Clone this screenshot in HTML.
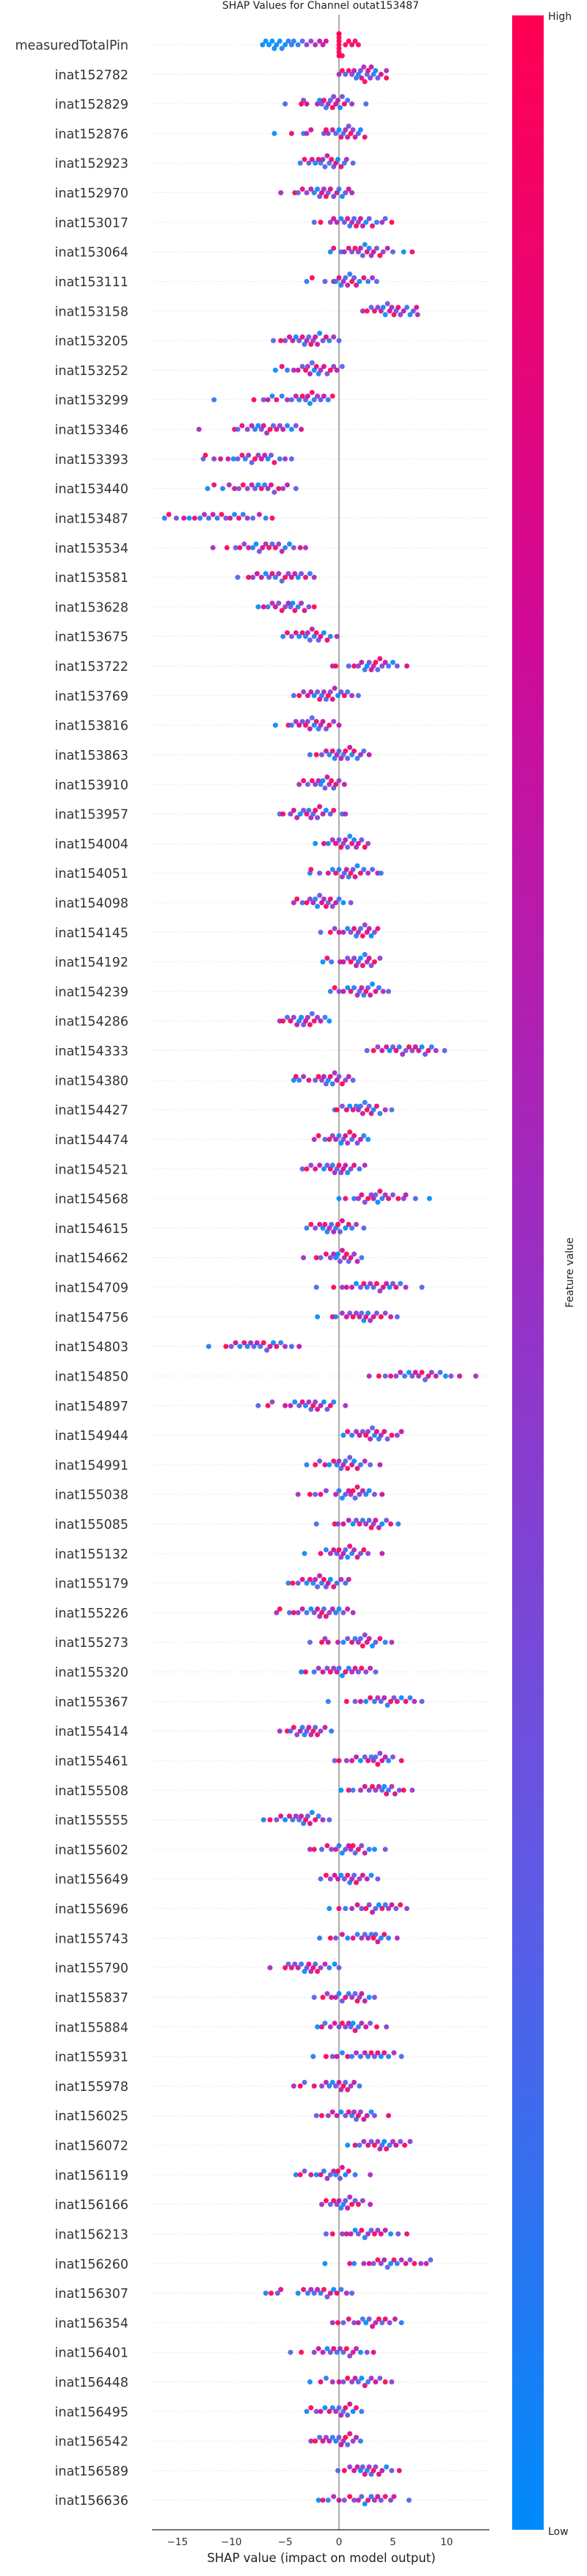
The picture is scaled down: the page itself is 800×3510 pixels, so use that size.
<!DOCTYPE html>
<html><head><meta charset="utf-8"><title>SHAP Values for Channel outat153487</title>
<style>
html,body{margin:0;padding:0;background:#fff;}
svg{display:block;font-family:"DejaVu Sans","Liberation Sans",sans-serif;}
</style></head>
<body>
<svg id="chart" width="800" height="3510" viewBox="0 0 800 3510" xmlns="http://www.w3.org/2000/svg">
<defs>
<linearGradient id="cbar" x1="0" y1="1" x2="0" y2="0">
<stop offset="0" stop-color="#008bfb"/>
<stop offset="0.25" stop-color="#5d5be6"/>
<stop offset="0.5" stop-color="#9a2fc4"/>
<stop offset="0.75" stop-color="#cf0a98"/>
<stop offset="1" stop-color="#ff0052"/>
</linearGradient>
</defs>
<text x="437" y="12" text-anchor="middle" font-size="14" fill="#222">SHAP Values for Channel outat153487</text>
<g id="grid"></g>
<line x1="462" y1="20" x2="462" y2="3447" stroke="#999" stroke-width="1.6"/>
<g id="dots"></g>
<g id="labels"></g>
<line x1="207" y1="3447" x2="667" y2="3447" stroke="#222" stroke-width="1.2"/>
<g id="ticks"></g>
<text x="438" y="3491" text-anchor="middle" font-size="16.5" fill="#222">SHAP value (impact on model output)</text>
<rect x="698" y="21" width="43" height="3426" fill="url(#cbar)"/>
<text x="747" y="27" font-size="14" fill="#222">High</text>
<text x="747" y="3454" font-size="14" fill="#222">Low</text>
<text x="781" y="1734" font-size="14" fill="#222" text-anchor="middle" transform="rotate(-90 781 1734)">Feature value</text>
</svg>
<script>
const featureNames = ["measuredTotalPin","inat152782","inat152829","inat152876","inat152923","inat152970","inat153017","inat153064","inat153111","inat153158","inat153205","inat153252","inat153299","inat153346","inat153393","inat153440","inat153487","inat153534","inat153581","inat153628","inat153675","inat153722","inat153769","inat153816","inat153863","inat153910","inat153957","inat154004","inat154051","inat154098","inat154145","inat154192","inat154239","inat154286","inat154333","inat154380","inat154427","inat154474","inat154521","inat154568","inat154615","inat154662","inat154709","inat154756","inat154803","inat154850","inat154897","inat154944","inat154991","inat155038","inat155085","inat155132","inat155179","inat155226","inat155273","inat155320","inat155367","inat155414","inat155461","inat155508","inat155555","inat155602","inat155649","inat155696","inat155743","inat155790","inat155837","inat155884","inat155931","inat155978","inat156025","inat156072","inat156119","inat156166","inat156213","inat156260","inat156307","inat156354","inat156401","inat156448","inat156495","inat156542","inat156589","inat156636"];

const tickValues = [-15,-10,-5,0,5,10];
const tickLabels = ["\u221215","\u221210","\u22125","0","5","10"];

const shapValues = [
[-7.1,-6.8,-6.5,-6.2,-6,-5.8,-5.5,-5.3,-5,-4.7,-4.4,-4.2,-3.8,-3.4,-3,-2.6,-2.2,-1.8,-1.5,-1.2,0,0,0,0,0,0,0,0,0.3,0.6,0.9,1.2,1.5,1.8],
[0,0.3,0.6,0.9,1.2,1.4,1.6,1.8,2,2.1,2.3,2.4,2.6,2.7,2.9,3,3.2,3.4,3.6,3.9,4.4,4.4],
[-5,-3.5,-3.3,-3,-2,-1.8,-1.6,-1.4,-1.2,-1,-0.8,-0.6,-0.5,-0.3,-0.1,0.1,0.3,0.5,0.8,1.2,2.5],
[-6,-4.4,-3.3,-3,-2.6,-1.4,-1.2,-1,-0.6,-0.3,0,0.2,0.4,0.6,0.8,0.9,1.1,1.3,1.5,1.8,2,2.4],
[-3.6,-3.2,-2.8,-2.5,-2.2,-1.9,-1.7,-1.5,-1.3,-1.1,-0.9,-0.7,-0.5,-0.3,-0.1,0.2,0.5,0.7,1.3],
[-5.4,-4.1,-3.8,-3.4,-3,-2.6,-2.3,-2,-1.8,-1.6,-1.4,-1.2,-1,-0.8,-0.5,-0.2,0,0.3,0.6,0.9,1.2],
[-2.3,-1.7,-0.8,-0.5,-0.2,0.2,0.5,0.8,1,1.2,1.4,1.6,1.8,2,2.2,2.5,2.8,3.1,3.5,4,4.3,4.9],
[-0.8,-0.5,0.2,0.5,0.9,1.2,1.5,1.8,2,2.2,2.4,2.6,2.8,3,3.2,3.5,3.8,4.1,4.5,5,6,6.8],
[-3,-2.5,-1.3,-0.5,-0.3,0,0.2,0.4,0.6,0.8,1,1.2,1.4,1.6,1.9,2.3,2.7,3.1,3.5],
[2.2,2.6,3,3.3,3.6,3.9,4.1,4.3,4.5,4.7,4.9,5.1,5.3,5.5,5.7,6,6.3,6.6,6.9,7.2,7.3],
[-6.1,-5.4,-5,-4.6,-4.3,-4,-3.7,-3.4,-3.2,-3,-2.8,-2.6,-2.4,-2.2,-2,-1.8,-1.5,-1.2,-0.9,-0.5,0],
[-5.9,-5.3,-4.8,-4.2,-3.8,-3.4,-3.1,-2.9,-2.7,-2.5,-2.3,-2.1,-1.9,-1.7,-1.4,-1.1,-0.8,-0.5,-0.2,0.3],
[-11.6,-7.9,-7,-6.6,-6.2,-5.8,-5.3,-4.8,-4.4,-4,-3.7,-3.4,-3.1,-2.9,-2.7,-2.5,-2.3,-2,-1.7,-1.4,-1,-0.6],
[-13,-9.7,-9.4,-9,-8.5,-8.1,-7.8,-7.5,-7.2,-7,-6.7,-6.4,-6.1,-5.8,-5.5,-5.2,-4.8,-4.4,-4,-3.5],
[-12.6,-12.4,-11.6,-11,-10.3,-9.8,-9.4,-9,-8.7,-8.4,-8.1,-7.8,-7.5,-7.2,-6.9,-6.6,-6.3,-6,-5.5,-5,-4.4],
[-12.2,-11.6,-10.8,-10.2,-9.7,-9.3,-8.9,-8.5,-8.1,-7.8,-7.5,-7.2,-6.9,-6.6,-6.3,-6,-5.6,-5.2,-4.8,-4],
[-16.2,-15.8,-15.1,-14.4,-13.9,-13.4,-12.9,-12.5,-12.1,-11.7,-11.3,-10.9,-10.5,-10.1,-9.7,-9.3,-8.9,-8.5,-8,-7.4,-6.8,-6.2],
[-11.7,-10.4,-9.6,-9.2,-8.8,-8.4,-8,-7.7,-7.4,-7.1,-6.8,-6.5,-6.2,-5.9,-5.6,-5.3,-5,-4.6,-4.2,-3.6,-3.1],
[-9.4,-8.4,-8,-7.6,-7.2,-6.8,-6.5,-6.2,-5.9,-5.6,-5.3,-5,-4.7,-4.4,-4.1,-3.8,-3.5,-3.1,-2.7,-2.3],
[-7.5,-7,-6.6,-6.2,-5.9,-5.6,-5.3,-5,-4.7,-4.5,-4.3,-4.1,-3.8,-3.5,-3.2,-2.8,-2.3],
[-5.2,-4.8,-4.4,-4,-3.7,-3.4,-3.1,-2.9,-2.7,-2.5,-2.3,-2.1,-1.9,-1.7,-1.4,-1.1,-0.8,-0.2],
[-0.6,-0.3,0.9,1.4,1.8,2.1,2.4,2.6,2.8,3,3.2,3.4,3.6,3.8,4,4.3,4.6,5,5.4,6.3],
[-4.2,-3.7,-3.3,-2.9,-2.6,-2.3,-2,-1.8,-1.6,-1.4,-1.2,-1,-0.8,-0.6,-0.4,-0.1,0.2,0.5,0.8,1.2,1.8],
[-5.9,-4.7,-4.4,-4,-3.7,-3.4,-3.1,-2.9,-2.7,-2.5,-2.3,-2.1,-1.9,-1.7,-1.5,-1.2,-0.9,-0.5,0],
[-2.7,-2.1,-1.6,-1.2,-0.9,-0.6,-0.4,-0.2,0,0.2,0.4,0.6,0.8,1,1.2,1.4,1.7,2,2.3,2.8],
[-3.7,-3.3,-2.9,-2.5,-2.2,-1.9,-1.7,-1.5,-1.3,-1.1,-0.9,-0.7,-0.5,-0.3,0,0.5],
[-5.5,-5.2,-4.5,-4.2,-3.9,-3.6,-3.3,-3,-2.8,-2.6,-2.4,-2.2,-2,-1.8,-1.5,-1.2,-0.8,-0.5,0.3,0.6],
[-2.2,-1.4,-1,-0.6,-0.3,0,0.2,0.4,0.6,0.8,1,1.2,1.4,1.6,1.8,2.1,2.4,2.7],
[-2.7,-2.6,-1.8,-1,-0.6,-0.3,0,0.3,0.5,0.7,0.9,1.1,1.3,1.5,1.7,2,2.3,2.7,3.1,3.6,3.9],
[-4.2,-3.9,-3.4,-3,-2.7,-2.4,-2.2,-2,-1.8,-1.6,-1.4,-1.2,-1,-0.8,-0.6,-0.3,0,0.4,1.1],
[-1.7,-0.8,-0.4,0,0.4,0.8,1.1,1.4,1.6,1.8,2,2.2,2.4,2.6,2.8,3,3.3,3.6],
[-1.5,-1.1,-0.7,0.1,0.4,0.8,1.1,1.4,1.6,1.8,2,2.2,2.4,2.6,2.8,3,3.3,3.8],
[-0.8,-0.4,0,0.4,0.8,1.1,1.4,1.7,1.9,2.1,2.3,2.5,2.7,2.9,3.1,3.4,3.7,4.1,4.6],
[-5.5,-5.2,-4.8,-4.5,-4.2,-3.9,-3.7,-3.5,-3.3,-3.1,-2.9,-2.7,-2.5,-2.3,-2,-1.7,-1.3,-0.9],
[2.6,3.2,3.6,4,4.4,4.7,5,5.3,5.6,5.9,6.2,6.5,6.8,7.1,7.4,7.7,8,8.3,8.6,9,9.8],
[-4.2,-4,-3.7,-3.3,-2.8,-2.2,-1.9,-1.6,-1.4,-1.2,-1,-0.8,-0.6,-0.4,-0.2,0,0.3,0.6,0.9,1.3],
[-0.4,-0.2,0.3,0.7,1,1.3,1.6,1.8,2,2.2,2.4,2.6,2.8,3,3.2,3.5,3.8,4.3,4.9],
[-2.3,-1.9,-1.3,-0.9,-0.6,-0.3,0,0.2,0.4,0.6,0.8,1,1.2,1.4,1.7,2,2.3,2.7],
[-3.4,-3,-2.6,-2.2,-1.8,-1.4,-1.1,-0.8,-0.6,-0.4,-0.2,0,0.2,0.4,0.6,0.8,1.1,1.4,1.9,2.4],
[0,0.6,1.4,1.8,2.1,2.4,2.7,3,3.2,3.4,3.6,3.8,4,4.3,4.6,5,5.5,6,6.2,7.1,8.4],
[-3,-2.6,-2.2,-1.8,-1.5,-1.3,-1.1,-0.9,-0.7,-0.5,-0.3,-0.1,0.1,0.3,0.6,0.9,1.2,1.6,2.3],
[-3.3,-2.1,-1.7,-1.2,-0.8,-0.5,-0.3,-0.1,0.1,0.3,0.5,0.7,0.9,1.1,1.4,1.7,2.1],
[-2.1,-0.5,0.3,0.7,1.2,1.6,2,2.3,2.6,2.9,3.2,3.5,3.8,4.1,4.4,4.7,5,5.3,5.7,6.2,7.7],
[-2,-0.6,-0.3,0.3,0.7,1,1.3,1.6,1.9,2.1,2.3,2.5,2.7,2.9,3.2,3.5,3.9,4.3,4.8,5.4],
[-12.1,-10.5,-10,-9.6,-9.2,-8.8,-8.5,-8.2,-7.9,-7.6,-7.3,-7,-6.7,-6.4,-6.1,-5.8,-5.4,-5,-4.4,-3.7],
[2.8,3.7,4.3,4.8,5.3,5.7,6.1,6.5,6.8,7.1,7.4,7.7,8,8.3,8.6,9,9.4,9.9,10.4,11.2,12.7],
[-7.5,-6.6,-6.2,-5,-4.5,-4.1,-3.7,-3.4,-3.1,-2.8,-2.6,-2.4,-2.2,-2,-1.7,-1.4,-1.1,-0.8,-0.5,0.6],
[0.4,0.8,1.2,1.6,1.9,2.2,2.5,2.7,2.9,3.1,3.3,3.5,3.7,3.9,4.2,4.5,4.9,5.4,5.8],
[-3,-2.2,-1.8,-1.3,-0.9,-0.5,-0.2,0,0.2,0.4,0.6,0.8,1,1.2,1.4,1.7,2,2.4,2.9,3.8],
[-3.8,-2.7,-2.2,-1.7,-1.2,-0.3,0,0.3,0.6,0.9,1.1,1.3,1.5,1.7,1.9,2.2,2.5,2.8,3.3,4],
[-2.1,-0.4,-0.1,0.4,0.9,1.3,1.6,1.9,2.2,2.5,2.8,3,3.2,3.4,3.7,4,4.4,4.8,5.5],
[-3.2,-1.7,-1.2,-0.8,-0.5,-0.2,0,0.2,0.4,0.6,0.8,1,1.2,1.4,1.7,2,2.3,2.7,4],
[-4.7,-4.3,-3.8,-3.4,-3,-2.7,-2.4,-2.2,-2,-1.8,-1.6,-1.4,-1.2,-1,-0.8,-0.5,-0.2,0.2,0.6,0.9],
[-5.8,-5.5,-4.6,-4.2,-3.8,-3.4,-3,-2.6,-2.3,-2,-1.8,-1.6,-1.4,-1.2,-0.9,-0.6,-0.3,0,0.4,0.8,1.3],
[-2.7,-1.6,-1.3,-1,-0.1,0.4,0.8,1.2,1.5,1.8,2,2.2,2.4,2.6,2.8,3.1,3.4,3.8,4.3,4.9],
[-3.5,-3.1,-2.3,-1.9,-1.5,-1.1,-0.8,-0.5,-0.2,0,0.3,0.6,0.9,1.2,1.5,1.8,2.1,2.5,2.9,3.4],
[-1,0.7,1.5,2,2.5,2.9,3.3,3.6,3.9,4.2,4.5,4.8,5.1,5.4,5.8,6.2,6.6,7,7.7],
[-5.5,-4.8,-4.5,-4.2,-3.9,-3.6,-3.4,-3.2,-3,-2.8,-2.6,-2.4,-2.2,-2,-1.7,-1.3,-0.7],
[-0.4,0,0.7,1.2,1.6,2,2.4,2.7,3,3.2,3.4,3.6,3.8,4,4.3,4.6,5,5.8],
[0.2,0.9,1.3,2,2.4,2.8,3.1,3.4,3.7,4,4.2,4.4,4.6,4.9,5.2,5.6,6,6.8],
[-7,-6.4,-5.8,-5.4,-5,-4.6,-4.3,-4,-3.7,-3.5,-3.3,-3.1,-2.9,-2.7,-2.5,-2.2,-1.9,-1.5,-0.9],
[-2.7,-2.3,-1.6,-1.1,-0.7,-0.3,0,0.3,0.6,0.9,1.1,1.3,1.5,1.8,2.1,2.4,2.8,3.3,4.3],
[-1.7,-1.2,-0.8,-0.4,-0.1,0.2,0.5,0.8,1,1.2,1.4,1.6,1.9,2.2,2.6,3,3.6],
[-0.9,0,0.6,1.2,1.7,2.1,2.5,2.8,3.1,3.4,3.7,4,4.3,4.6,4.9,5.3,5.7,6.3],
[-1.8,-0.8,-0.3,0.3,0.8,1.3,1.7,2.1,2.4,2.7,3,3.2,3.4,3.6,3.9,4.2,4.6,5.4],
[-6.4,-5,-4.7,-4.4,-4.1,-3.8,-3.5,-3.2,-3,-2.8,-2.6,-2.4,-2.2,-2,-1.7,-1.3,-0.9,-0.4,0],
[-2.3,-1.5,-1.1,-0.7,-0.3,0,0.3,0.6,0.9,1.2,1.5,1.7,1.9,2.1,2.4,2.8,3.3],
[-2,-1.6,-1.3,-0.8,-0.4,0,0.3,0.6,0.9,1.1,1.3,1.5,1.8,2.1,2.5,2.9,3.5,4.4],
[-2.4,-1.2,-0.6,-0.2,0.3,0.8,1.2,1.6,2,2.4,2.7,3,3.3,3.6,3.9,4.2,4.6,5.1,5.8],
[-4.2,-3.6,-3.2,-2.3,-1.6,-1.2,-0.9,-0.6,-0.3,0,0.2,0.4,0.6,0.8,1.1,1.4,1.9],
[-2.1,-1.6,-1,-0.6,-0.2,0.2,0.6,0.9,1.2,1.4,1.6,1.8,2,2.3,2.6,3,3.3,4.6],
[0.8,1.5,1.9,2.3,2.7,3,3.3,3.6,3.8,4,4.2,4.4,4.7,5,5.3,5.7,6.1,6.6],
[-4,-3.6,-3.2,-2.6,-2.1,-1.7,-1.4,-1.1,-0.8,-0.5,-0.3,-0.1,0.1,0.3,0.6,0.9,1.5,2.9],
[-1.6,-1.2,-0.8,-0.5,-0.2,0,0.2,0.4,0.6,0.8,1,1.2,1.5,1.8,2.2,2.9],
[-1.2,-0.6,0.3,0.7,1.1,1.5,1.8,2.1,2.4,2.7,3,3.3,3.6,3.9,4.3,4.8,5.5,6.3],
[-1.3,1,1.4,2.3,2.8,3.2,3.6,3.9,4.2,4.5,4.8,5.1,5.4,5.8,6.2,6.6,7,7.6,8.1,8.5],
[-6.8,-6.3,-5.7,-5.4,-3.8,-3.3,-2.9,-2.6,-2.3,-2,-1.7,-1.4,-1.1,-0.8,-0.5,-0.2,0.2,0.7,1.2],
[-0.6,-0.1,0.4,0.9,1.4,1.8,2.2,2.5,2.8,3.1,3.4,3.7,4,4.3,4.7,5.2,5.8],
[-4.5,-3.5,-2.3,-1.9,-1.5,-1.1,-0.8,-0.5,-0.2,0.1,0.4,0.7,1,1.3,1.6,2,2.6,3.2],
[-2.7,-1.7,-1.2,-0.6,0,0.4,0.8,1.2,1.5,1.8,2.1,2.4,2.7,3,3.4,3.8,4.3,4.9],
[-3,-2.6,-2.1,-1.7,-1.3,-0.9,-0.6,-0.3,0,0.2,0.4,0.6,0.8,1,1.3,1.6,2.1],
[-2.6,-2.2,-1.8,-1.5,-1.2,-0.9,-0.6,-0.3,0,0.2,0.4,0.6,0.8,1,1.3,1.6,2],
[-0.1,0.5,1,1.4,1.7,2,2.2,2.4,2.6,2.8,3,3.2,3.4,3.7,4,4.4,4.9,5.6],
[-1.9,-1.5,-1,-0.5,0,0.5,1,1.4,1.8,2.1,2.4,2.7,3,3.3,3.6,3.9,4.3,4.8,5.1,6.5]
];

// feature value level per point (0 = low/blue ... 9 = high/pink); pattern repeats along the row
const featurePatternFirst = "0000000101111244566799999999999889";
const featurePatternA = "1937081526";
const featurePatternB = "5928461037";
const featurePatternC = "2947603815";
const featurePatternD = "0815739462";
const featureLevels = [featurePatternFirst];
for (let i = 1; i < shapValues.length; i++) {
  featureLevels.push([featurePatternA, featurePatternB, featurePatternC, featurePatternD][i % 4]);
}

const X0 = 462, UNIT = 14.68, ROW0 = 61, ROWH = 40.31;
function xScale(v){ return X0 + v * UNIT; }
function yScale(i){ return ROW0 + i * ROWH; }

const stops = [[0,[0,139,251]],[0.25,[93,91,230]],[0.5,[154,47,196]],[0.75,[207,10,152]],[1,[255,0,82]]];
function colorFor(t){
  for (let k = 0; k < stops.length - 1; k++) {
    const a = stops[k], b = stops[k+1];
    if (t <= b[0]) {
      const f = (t - a[0]) / (b[0] - a[0]);
      const c = a[1].map((v, j) => Math.round(v + (b[1][j] - v) * f));
      return "rgb(" + c.join(",") + ")";
    }
  }
  return "rgb(255,0,82)";
}

const NS = "http://www.w3.org/2000/svg";
const grid = document.getElementById("grid");
const dots = document.getElementById("dots");
const labels = document.getElementById("labels");
const ticks = document.getElementById("ticks");

featureNames.forEach((name, i) => {
  const y = yScale(i);
  const gl = document.createElementNS(NS, "line");
  gl.setAttribute("x1", 207); gl.setAttribute("x2", 667);
  gl.setAttribute("y1", y); gl.setAttribute("y2", y);
  gl.setAttribute("stroke", "#cccccc"); gl.setAttribute("stroke-width", "0.8");
  gl.setAttribute("stroke-dasharray", "1 3");
  
  
  grid.appendChild(gl);

  const t = document.createElementNS(NS, "text");
  t.setAttribute("x", 175); t.setAttribute("y", y + 6.5);
  t.setAttribute("text-anchor", "end");
  t.setAttribute("font-size", "17.5");
  t.setAttribute("fill", "#333");
  t.textContent = name;
  
  
  labels.appendChild(t);

  const vals = shapValues[i] || [];
  const pat = featureLevels[i];
  const bins = {};
  const order = vals.map((v, k) => k).sort((a, b) => vals[a] - vals[b]);
  order.forEach(k => {
    const v = vals[k];
    const b = Math.round(v / 0.7);
    const n = bins[b] || 0;
    bins[b] = n + 1;
    const step = Math.ceil(n / 2) * 5;
    const off = Math.min(step, 15) * (n % 2 === 1 ? -1 : 1);
    const c = document.createElementNS(NS, "circle");
    c.setAttribute("cx", xScale(v).toFixed(1));
    c.setAttribute("cy", (y + off).toFixed(1));
    c.setAttribute("r", "3.5");
    const lvl = parseInt(pat[k % pat.length], 10) / 9;
    c.setAttribute("fill", colorFor(lvl));
    c.setAttribute("fill-opacity", "0.92");
    
    
    dots.appendChild(c);
  });
});

tickValues.forEach((v, i) => {
  const t = document.createElementNS(NS, "text");
  t.setAttribute("x", xScale(v)); t.setAttribute("y", 3468);
  t.setAttribute("text-anchor", "middle");
  t.setAttribute("font-size", "13.5");
  t.setAttribute("fill", "#333");
  t.textContent = tickLabels[i];
  
  
  ticks.appendChild(t);
});
</script>
</body></html>
